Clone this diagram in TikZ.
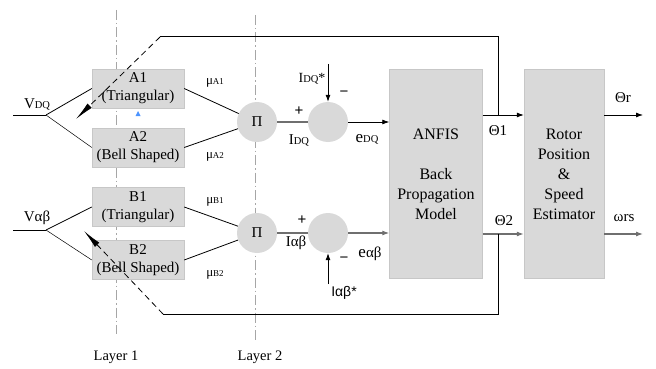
\documentclass[tikz,border=0pt]{standalone}
\usepackage{fontspec}
\setmainfont{Liberation Serif}
\newfontfamily\sansf{Liberation Sans}
\usetikzlibrary{arrows.meta}
\definecolor{boxgray}{HTML}{D9D9D9}
\definecolor{linegray}{HTML}{6F6F6F}
\definecolor{layergray}{HTML}{A6A6A6}
\tikzset{
  block/.style={fill=boxgray, draw=boxgray!80!gray, line width=0.4pt, inner sep=0pt, align=center,
    font=\fontsize{15}{18}\selectfont},
  bigblock/.style={block, minimum width=93pt, minimum height=209pt, font=\fontsize{16}{20}\selectfont},
  mfblock/.style={block, minimum width=92pt, minimum height=39pt},
  disc/.style={circle, fill=boxgray, inner sep=0pt, minimum size=40pt, font=\fontsize{15}{18}\selectfont},
  wire/.style={line width=0.8pt, black},
  graywire/.style={line width=1.2pt, linegray},
  sig/.style={wire, -{Latex[length=7pt,width=5pt]}},
  fb/.style={wire, dashed, dash pattern=on 6pt off 4pt, -{Latex[length=19pt,width=6pt]}},
  lbl/.style={inner sep=0pt, font=\fontsize{15}{18}\selectfont},
  slbl/.style={inner sep=0pt, font=\fontsize{13}{15}\selectfont},
  layer/.style={layergray, line width=0.8pt, dash pattern=on 10pt off 3pt on 1.5pt off 3pt},
}
\newcommand{\sub}[1]{{\fontsize{10.5}{12}\selectfont #1}}
\newcommand{\tsub}[1]{{\fontsize{9}{11}\selectfont #1}}
\begin{document}
\begin{tikzpicture}[x=1pt, y=-1pt]
\useasboundingbox (0,0) rectangle (656,369);

% layer separators
\coordinate (l1t) at (116,10);  \coordinate (l1b) at (116,334);
\coordinate (l2t) at (255,15);  \coordinate (l2b) at (255,340);
\draw[layer] (l1t) -- (l1b);
\draw[layer] (l2t) -- (l2b);
\node[slbl, font=\fontsize{14.5}{16}\selectfont] (lay1) at (116,357) {Layer 1};
\node[slbl, font=\fontsize{14.5}{16}\selectfont] (lay2) at (260,357) {Layer 2};

% membership function blocks
\node[mfblock] (A1) at (138,88.5) {A1\\(Triangular)};
\node[mfblock] (A2) at (138,147.5) {A2\\(Bell Shaped)};
\node[mfblock] (B1) at (138,207) {B1\\(Triangular)};
\node[mfblock] (B2) at (138,260) {B2\\(Bell Shaped)};
\fill[blue!60!cyan!70] (135.5,116) -- (140.5,116) -- (138,111) -- cycle;

% inputs
\coordinate (vdqin) at (13,115);
\coordinate (vdqs) at (46,115);
\coordinate (vabin) at (13,230);
\coordinate (vabs) at (46,230);
\draw[wire] (vdqin) -- (vdqs);
\draw[wire] (vdqs) -- (A1.west);
\draw[wire, line width=0.5pt] (vdqs) -- (A2.west);
\draw[wire] (vabin) -- (vabs);
\draw[wire] (vabs) -- (B1.west);
\draw[wire, line width=0.5pt] (vabs) -- (B2.west);
\node[lbl] (vdq) at (37,104) {V\sub{DQ}};
\node[lbl] (vab) at (37,218) {Vαβ};

% product nodes
\node[disc] (P1) at (257,122) {Π};
\node[disc] (P2) at (257,233) {Π};
\draw[wire] (A1.east) -- (P1);
\draw[wire] (A2.east) -- (P1);
\draw[wire] (B1.east) -- (P2);
\draw[wire] (B2.east) -- (P2);
\node[slbl] (mua1) at (215,83) {μ\tsub{A1}};
\node[slbl] (mua2) at (215,157) {μ\tsub{A2}};
\node[slbl] (mub1) at (215,202) {μ\tsub{B1}};
\node[slbl] (mub2) at (215,275) {μ\tsub{B2}};

% comparators
\node[disc] (S1) at (328,122) {};
\node[disc] (S2) at (328,233) {};
\draw[graywire] (P1) -- (S1);
\draw[graywire] (P2) -- (S2);
\node[lbl, font=\sansf\fontsize{15}{18}\selectfont] (p1) at (299,111) {+};
\node[lbl, font=\sansf\fontsize{15}{18}\selectfont] (p2) at (302,220) {+};
\node[lbl] (idq) at (299,140) {I\sub{DQ}};
\node[lbl] (iab) at (296,243) {Iαβ};
\coordinate (idqref) at (328,64);
\coordinate (iabref) at (328,284);
\draw[sig] (idqref) -- (S1.north);
\draw[sig] (iabref) -- (S2.south);
\node[slbl, font=\fontsize{14}{16}\selectfont] (idqs) at (312,79) {I\sub{DQ}*};
\node[slbl, font=\sansf\fontsize{14}{16}\selectfont] (iabs) at (344,293) {Iαβ*};
\node[lbl, font=\sansf\fontsize{15}{18}\selectfont] (m1) at (344,94) {\textminus};
\node[lbl, font=\sansf\fontsize{15}{18}\selectfont] (m2) at (344,260) {\textminus};

% ANFIS and estimator
\node[bigblock] (anfis) at (436,173.5) {};
\node[lbl, font=\fontsize{16}{20}\selectfont] (anfis1) at (436,134) {ANFIS};
\node[lbl, font=\fontsize{16}{20}\selectfont, align=center, anchor=north] (anfis2) at (436,168) {Back\\Propagation\\Model};
\node[bigblock, minimum width=80pt] (rot) at (564,173.5) {};
\node[lbl, font=\fontsize{16}{20}\selectfont, align=center] (rot1) at (564,174) {Rotor\\Position\\\&\\Speed\\Estimator};

\draw[sig] (S1.east) -- (S1.east -| anfis.west);
\draw[sig, linegray, line width=1.1pt] (S2.east) -- (S2.east -| anfis.west);
\node[lbl, font=\fontsize{17}{20}\selectfont] (edq) at (367,139) {e\sub{DQ}};
\node[lbl, font=\fontsize{17}{20}\selectfont] (eab) at (370,254) {e{\fontsize{15}{18}\selectfont αβ}};

% ANFIS outputs
\coordinate (o1) at (436,115);
\coordinate (o2) at (436,234);
\draw[sig] (o1 -| anfis.east) -- (o1 -| rot.west);
\draw[sig, linegray, line width=1.1pt] (o2 -| anfis.east) -- (o2 -| rot.west);
\node[lbl] (th1) at (498,131) {Θ1};
\node[lbl] (th2) at (504,221) {Θ2};

% estimator outputs
\coordinate (or) at (643,115);
\coordinate (ow) at (643,234);
\draw[sig] (or -| rot.east) -- (or);
\draw[sig, linegray, line width=1.1pt] (ow -| rot.east) -- (ow);
\node[lbl] (thr) at (623,98) {Θr};
\node[lbl] (wrs) at (624,218) {ωrs};

% feedback to the membership functions
\coordinate (t1) at (498,115);
\coordinate (t1c) at (498,37);
\coordinate (f1) at (160,37);
\coordinate (h1) at (76,119);
\draw[wire, line width=1pt] (t1) -- (t1c) -- (f1);
\draw[fb] (f1) -- (h1);
\coordinate (t2) at (498,234);
\coordinate (t2c) at (498,314);
\coordinate (f2) at (163,314);
\coordinate (h2) at (84,231);
\draw[wire, line width=1pt] (t2) -- (t2c) -- (f2);
\draw[fb] (f2) -- (h2);
\end{tikzpicture}
\end{document}
